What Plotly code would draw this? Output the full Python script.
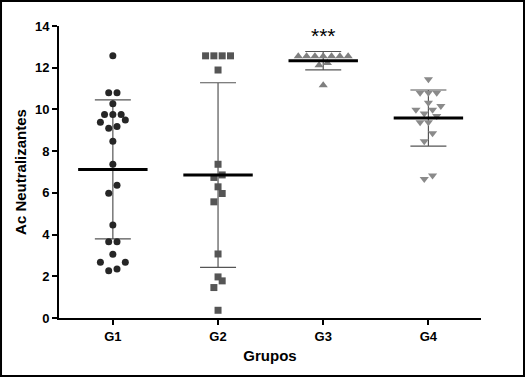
import numpy as np
import plotly.graph_objects as go

# ---- data ----
groups = ["G1", "G2", "G3", "G4"]
g1 = [12.57, 10.8, 10.8, 10.27, 9.76, 9.76, 9.76, 9.49, 9.39, 9.18, 9.1, 8.48,
      7.37, 6.37, 5.98, 4.46, 3.66, 3.66, 3.06, 2.67, 2.67, 2.35, 2.27]
g2 = [12.57, 12.57, 12.57, 12.57, 11.89, 7.37, 6.86, 6.74, 6.29, 5.97, 5.57,
      3.07, 1.97, 1.78, 1.46, 0.37]
g3 = [12.55, 12.55, 12.55, 12.55, 12.55, 12.55, 12.55, 12.23, 12.12, 11.16]
g4 = [11.45, 10.8, 10.8, 10.8, 10.32, 10.17, 9.98, 9.98, 9.81, 9.69, 9.38,
      9.38, 8.86, 8.47, 6.83, 6.67]
series = [g1, g2, g3, g4]
y_ticks = [0, 2, 4, 6, 8, 10, 12, 14]
significance = "***"

# ---- styles ----
symbols = ["circle", "square", "triangle-up", "triangle-down"]
colors = ["#262626", "#555555", "#7f7f7f", "#8a8a8a"]
sizes = [7, 7, 8, 8]
FONT = "Arial, Liberation Sans, sans-serif"


def swarm(vals, h=0.42, step=0.079):
    """GraphPad-like row swarm: points within h of a row start share a row,
    spread symmetrically around the group centre."""
    order = sorted(range(len(vals)), key=lambda i: vals[i])
    rows, cur, start = [], [], None
    for i in order:
        if start is None or vals[i] > start + h:
            if cur:
                rows.append(cur)
            cur, start = [i], vals[i]
        else:
            cur.append(i)
    if cur:
        rows.append(cur)
    offs = [0.0] * len(vals)
    for row in rows:
        k = len(row)
        slots = [j - (k - 1) / 2 for j in range(k)]
        slots.sort(key=lambda s: (abs(s), s))
        for idx, s in zip(row, slots):
            offs[idx] = s * step
    return offs


fig = go.Figure()

means = [float(np.mean(v)) for v in series]
sds = [float(np.std(v, ddof=1)) for v in series]

# error bars (mean ± SD)
fig.add_trace(go.Scatter(
    x=list(range(len(groups))), y=means, mode="markers",
    marker=dict(size=1, color="rgba(0,0,0,0)"),
    error_y=dict(type="data", array=sds, visible=True, color="#555555",
                 thickness=1.2, width=18),
    showlegend=False, hoverinfo="skip"))

# points
for i, vals in enumerate(series):
    offs = swarm(vals)
    fig.add_trace(go.Scatter(
        x=[i + o for o in offs], y=vals, mode="markers",
        marker=dict(symbol=symbols[i], color=colors[i], size=sizes[i],
                    line=dict(width=0)),
        showlegend=False))

# mean lines
for i, m in enumerate(means):
    fig.add_trace(go.Scatter(
        x=[i - 0.33, i + 0.33], y=[m, m], mode="lines",
        line=dict(color="black", width=3), showlegend=False,
        hoverinfo="skip"))

fig.add_annotation(x=2, y=13.55, text=significance, showarrow=False,
                   font=dict(family=FONT, size=21, color="black"),
                   xanchor="center", yanchor="middle")

# outer frame
fig.add_shape(type="rect", xref="paper", yref="paper",
              x0=-0.1374, x1=1.1019, y0=-0.1986, y1=1.0856,
              line=dict(color="black", width=2), layer="above")

fig.update_layout(
    width=525, height=377,
    margin=dict(l=59, r=44, t=26, b=59, autoexpand=False),
    paper_bgcolor="white", plot_bgcolor="white",
    font=dict(family=FONT, color="black"),
    xaxis=dict(range=[-0.512, 3.5], tickvals=list(range(len(groups))),
               ticktext=groups, showgrid=False, zeroline=False,
               showline=True, linecolor="black", linewidth=2,
               ticks="outside", ticklen=5, tickwidth=2, tickcolor="black",
               automargin=False,
               tickfont=dict(family=FONT, size=13, weight="bold"),
               title=dict(text="Grupos", standoff=8,
                          font=dict(family=FONT, size=15, weight="bold"))),
    yaxis=dict(range=[0, 14], tickvals=y_ticks, showgrid=False,
               zeroline=False, showline=True, linecolor="black", linewidth=2,
               ticks="outside", ticklen=5, tickwidth=2, tickcolor="black",
               automargin=False,
               tickfont=dict(family=FONT, size=13, weight="bold"),
               title=dict(text="Ac Neutralizantes", standoff=5,
                          font=dict(family=FONT, size=15, weight="bold"))),
)

fig.write_html("out.html",
               config={"displayModeBar": False},
               post_script="document.body.style.margin='0px';"
                           "document.body.style.overflow='hidden';")
